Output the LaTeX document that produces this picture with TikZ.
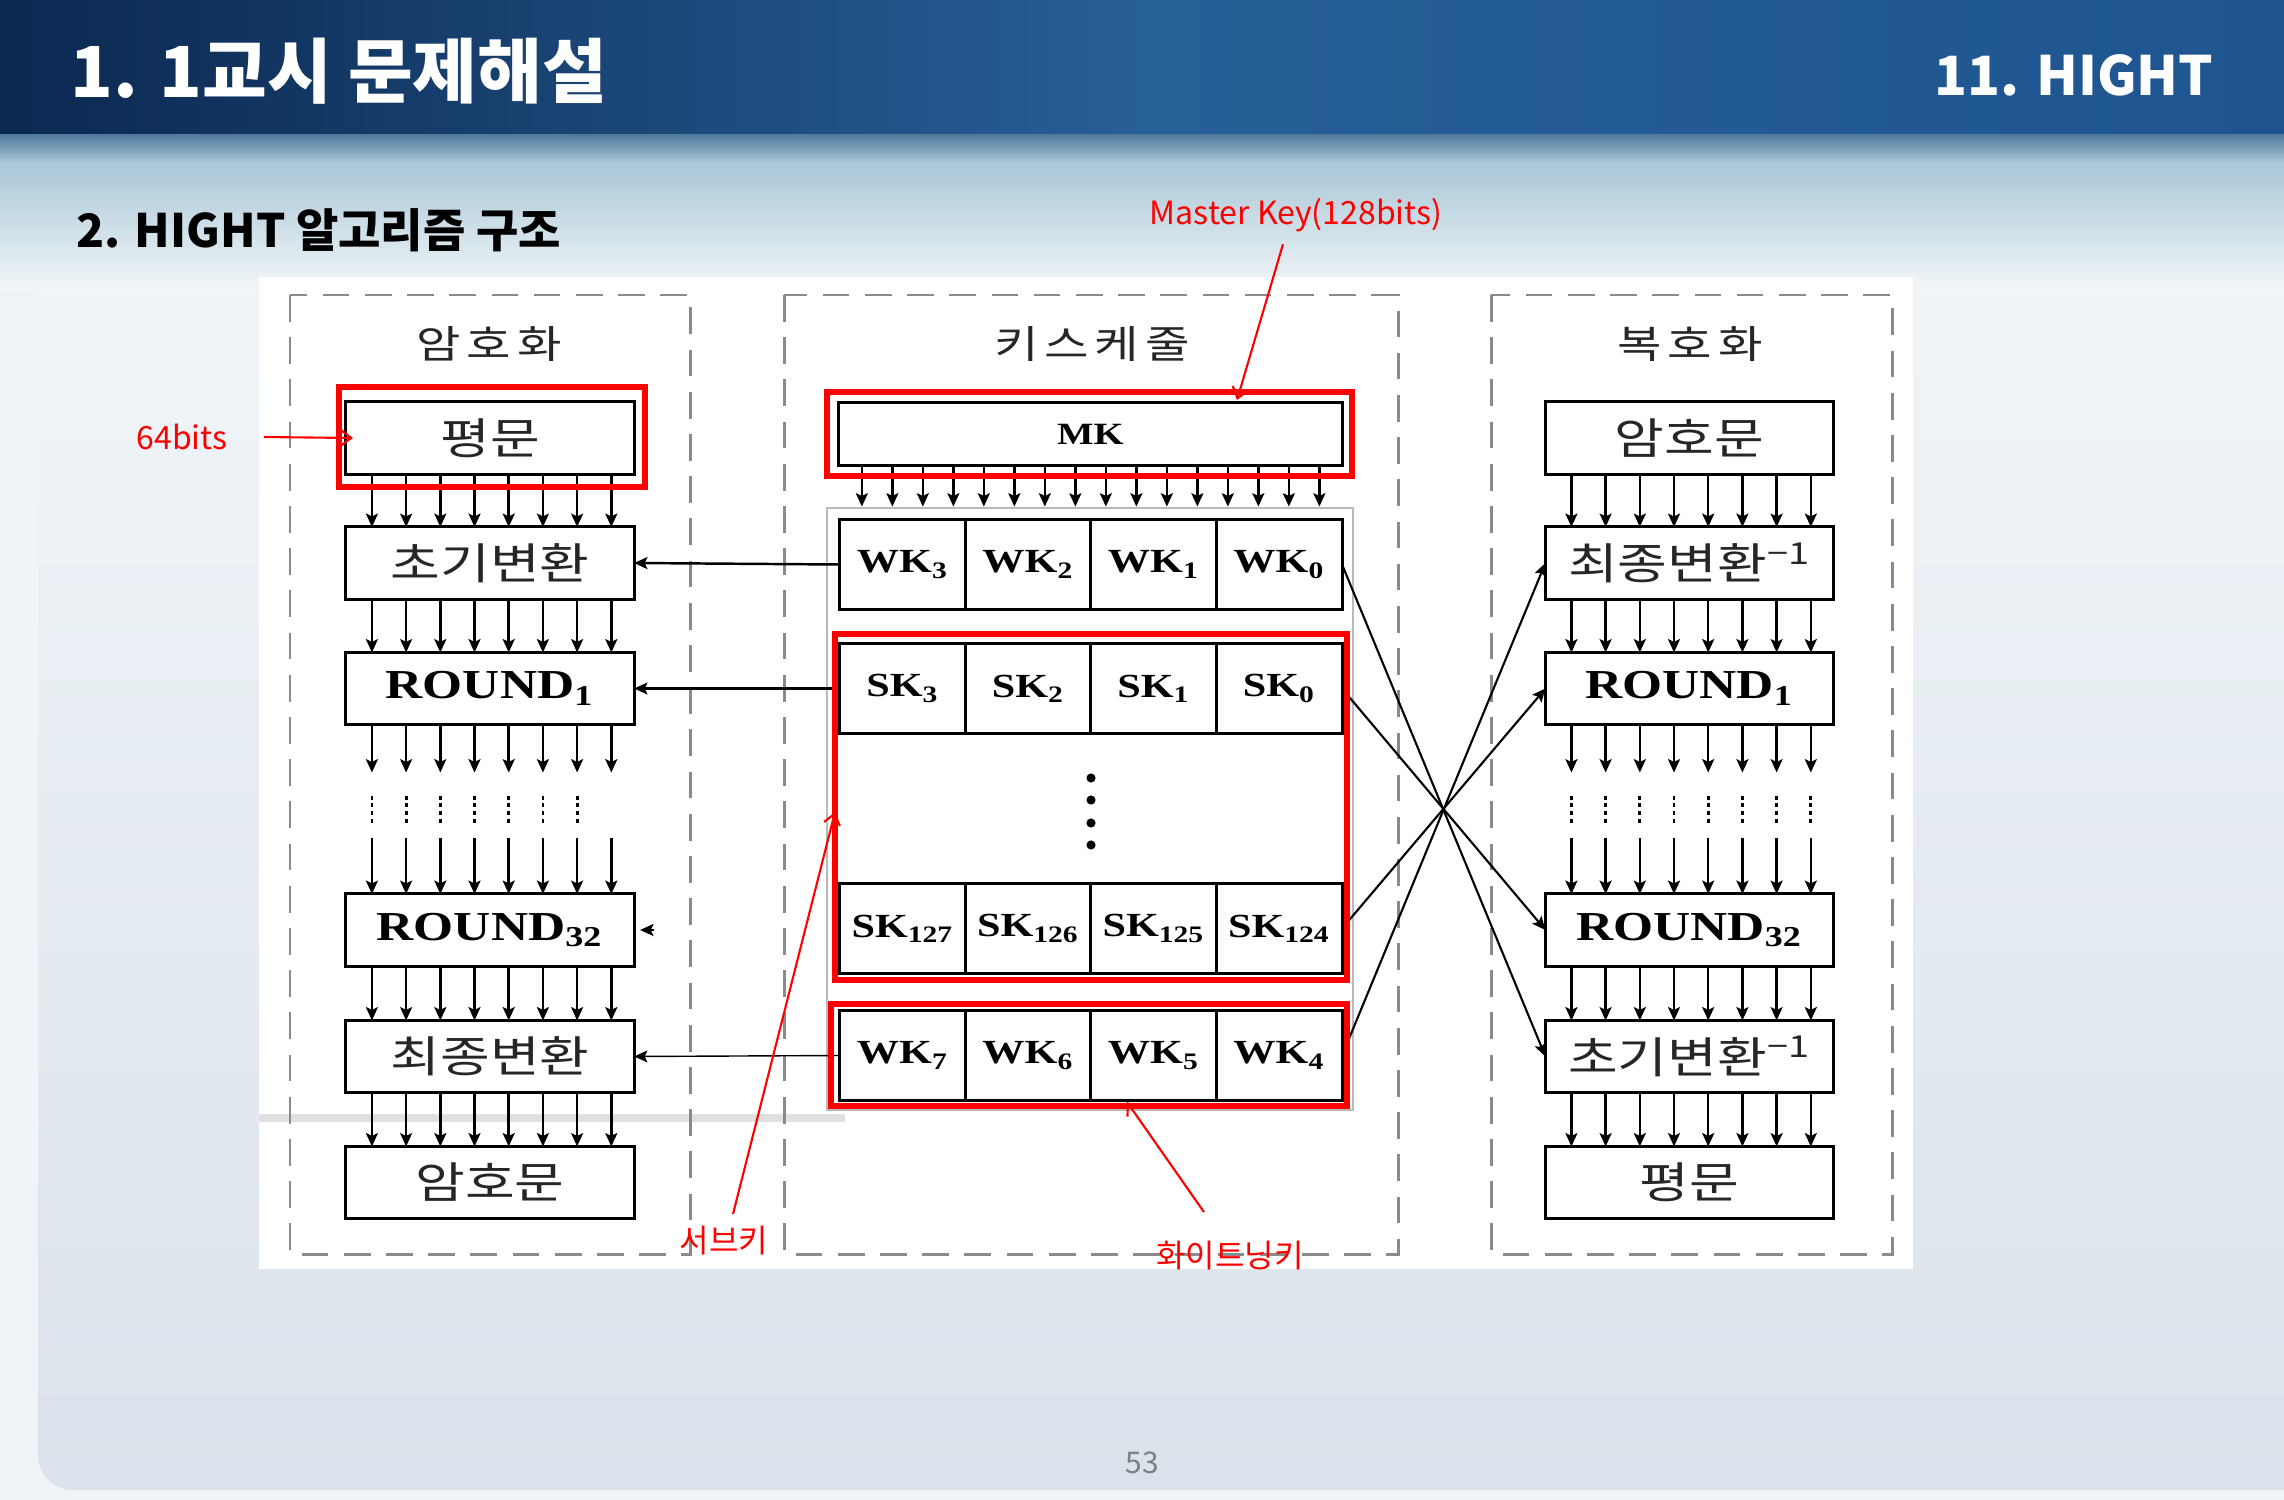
\documentclass[tikz,border=0pt]{standalone}
\usepackage{fontspec}
\usepackage{graphicx}
\usetikzlibrary{arrows.meta, positioning}
\newfontfamily\kr{Noto Sans CJK KR}
\newfontfamily\krwide[FakeStretch=1.25]{Noto Sans CJK KR}
\newfontfamily\tmswide[FakeStretch=1.25]{Liberation Serif}
\definecolor{navy}{HTML}{0B2850}
\definecolor{seablue}{HTML}{275F97}
\definecolor{deepblue}{HTML}{1E5590}
\definecolor{dusk}{HTML}{4A7397}
\definecolor{haze}{HTML}{A8C5D6}
\definecolor{mist}{HTML}{F2F7F9}
\definecolor{floor}{HTML}{DAE2EB}
\definecolor{dashgray}{HTML}{8A8A8A}

\begin{document}
\begin{tikzpicture}[x=0.01cm, y=-0.01cm,
  blk/.style={draw, line width=0.85pt, fill=white, minimum width=2.88cm, minimum height=0.72cm, inner sep=0pt, outer sep=0pt, text=black!85, font={\krwide\fontsize{12.3}{13}\selectfont}},
  rnd/.style={blk, text=black, font={\tmswide\bfseries\fontsize{11.7}{12}\selectfont}},
  cell/.style={draw, line width=0.85pt, fill=white, minimum width=1.255cm, minimum height=0.89cm, inner sep=0pt, outer sep=0pt, font={\tmswide\bfseries\fontsize{9.6}{10}\selectfont}},
  colhead/.style={text=black!85, font={\krwide\addfontfeature{LetterSpace=15}\fontsize{11}{12}\selectfont}},
  zone/.style={draw=dashgray, line width=0.85pt, dash pattern=on 7.6pt off 4.4pt},
  hilite/.style={draw=red, line width=1.6pt},
  bus/.style={-{Stealth[length=3.8pt, width=3.4pt, inset=0.8pt]}, line width=0.7pt},
  dotbus/.style={line width=0.8pt, dash pattern=on 1.2pt off 1pt},
  note/.style={text=red, font={\kr\fontsize{9.1}{10}\selectfont}},
  pointer/.style={draw=red, line width=0.6pt, -{Straight Barb[length=3pt, width=4.6pt]}}]
  \useasboundingbox (0,0) rectangle (2284,1500);

  % slide background
  \fill[floor!40!white] (0,0) rectangle (2284,1500);
  \shade[top color=mist, bottom color=floor, rounded corners=10pt] (38,150) rectangle (2320,1490);
  \shade[top color=haze, bottom color=mist] (0,160) rectangle (2284,290);
  \shade[top color=dusk, bottom color=haze] (0,132) rectangle (2284,162);
  \shade[left color=navy, right color=deepblue, middle color=seablue] (0,0) rectangle (2284,134);
  \node[anchor=base west, inner sep=0pt, text=white, font={\kr\bfseries\fontsize{20}{22}\selectfont}] (title) at (70,98) {1. 1교시 문제해설};
  \node[anchor=base east, inner sep=0pt, text=white, font={\kr\bfseries\fontsize{15.4}{17}\selectfont}] (chap) at (2214,96) {11. HIGHT};
  \node[anchor=base west, inner sep=0pt, font={\kr\bfseries\fontsize{13.1}{14}\selectfont}] (sect) at (76,248) {2. HIGHT 알고리즘 구조};
  \node[text=black!50, font={\kr\fontsize{8.5}{9}\selectfont}] (page) at (1142,1463) {53};

  % diagram panel
  \fill[white] (259,277) rectangle (1913,1269);
  \draw[line width=2pt, black!12] (259,1118) -- (845,1118);
  \draw[zone] (290,295) rectangle (690,1254);
  \draw[zone] (784,295) rectangle (1398,1254);
  \draw[zone] (1491,295) rectangle (1892,1254);
  \node[colhead] (hEnc) at (489,344) {암호화};
  \node[colhead] (hKey) at (1092,344) {키스케줄};
  \node[colhead] (hDec) at (1690,344) {복호화};

  % encryption
  \node[blk] (encP) at (490,438) {평문};
  \node[blk] (encI) at (490,563) {초기변환};
  \node[rnd] (encR1) at (490,688.5) {ROUND\textsubscript{1}};
  \node[rnd] (encR32) at (490,930) {ROUND\textsubscript{32}};
  \node[blk] (encF) at (490,1056.5) {최종변환};
  \node[blk] (encC) at (490,1182.5) {암호문};

  % decryption
  \node[blk] (decC) at (1689.5,438) {암호문};
  \node[blk] (decF) at (1689.5,563) {최종변환\textsuperscript{−1}};
  \node[rnd] (decR1) at (1689.5,688.5) {ROUND\textsubscript{1}};
  \node[rnd] (decR32) at (1689.5,930) {ROUND\textsubscript{32}};
  \node[blk] (decI) at (1689.5,1056.5) {초기변환\textsuperscript{−1}};
  \node[blk] (decP) at (1689.5,1182.5) {평문};

  % key schedule
  \node[draw=gray!55, line width=0.7pt, minimum width=5.26cm, minimum height=6.02cm, inner sep=0pt] (keys) at (1090,809) {};
  \node[cell, minimum width=5.03cm, minimum height=0.62cm, font={\tmswide\bfseries\fontsize{8.8}{10}\selectfont}] (mk) at (1090.5,434) {MK};
  \foreach \n [count=\c from 0] in {3,2,1,0} {
    \node[cell] (wk\n) at (902.75+125.5*\c,564.5) {WK\textsubscript{\n}};
    \node[cell] (sk\n) at (902.75+125.5*\c,688.5) {SK\textsubscript{\n}};
  }
  \foreach \n [count=\c from 0] in {127,126,125,124}
    \node[cell] (sk\n) at (902.75+125.5*\c,928.5) {SK\textsubscript{\n}};
  \foreach \n [count=\c from 0] in {7,6,5,4}
    \node[cell] (wk\n) at (902.75+125.5*\c,1055.5) {WK\textsubscript{\n}};
  \foreach \y in {778,800,823,845} \fill (1091,\y) circle[radius=1.3pt];

  % 64-bit data paths
  \foreach \a/\b in {encP/encI, encI/encR1, encR32/encF, encF/encC, decC/decF, decF/decR1, decR32/decI, decI/decP}
    \foreach \i in {0,...,7} {
      \path (\a.south west) ++(26+34.2*\i,0) coordinate (t);
      \draw[bus] (t) -- (t |- \b.north);
    }
  \foreach \a/\b in {encR1/encR32, decR1/decR32}
    \foreach \i in {0,...,7} {
      \path (\a.south west) ++(26+34.2*\i,0) coordinate (t);
      \draw[bus] (t) -- ++(0,48);
      \draw[bus] (t |- \b.north) ++(0,-56) -- (t |- \b.north);
    }
  \foreach \a/\n in {encR1/6, decR1/7}
    \foreach \i in {0,...,\n} {
      \path (\a.south west) ++(26+34.2*\i,71) coordinate (t);
      \draw[dotbus] (t) -- ++(0,27);
    }
  \foreach \i in {0,...,15} {
    \path (mk.south west) ++(23+30.5*\i,0) coordinate (t);
    \draw[bus] (t) -- (t |- keys.north);
  }

  % round keys into the rounds
  \draw[bus] (wk3.west) -- (encI.east);
  \draw[bus] (sk3.west) -- (encR1.east);
  \path (encR32.east) ++(20,0) coordinate (r32stub);
  \draw[bus] (r32stub) -- ([xshift=0.06cm]encR32.east);
  \draw[bus, line width=0.4pt] (wk7.west) -- (encF.east);
  \draw[bus, line width=0.6pt] (wk0.east) -- (decI.west);
  \draw[bus, line width=0.6pt] (sk0.east) -- (decR32.west);
  \draw[bus, line width=0.6pt] (sk124.east) -- (decR1.west);
  \draw[bus, line width=0.6pt] (wk4.east) -- (decF.west);

  % red marks
  \draw[hilite] (339,387) rectangle (645,487);
  \draw[hilite] (827,392) rectangle (1352,476);
  \draw[hilite] (835,634) rectangle (1347,980);
  \draw[hilite] (831,1004) rectangle (1347,1106);
  \node[note] (bits) at (182,437) {64bits};
  \draw[pointer] ([xshift=0.24cm]bits.east) -- ([xshift=0.07cm]encP.west);
  \node[note] (mkey) at (1296,215) {Master Key(128bits)};
  \coordinate (mkTip) at (1237,400);
  \draw[pointer] ([xshift=-0.13cm]mkey.south) -- (mkTip);
  \node[note] (subkey) at (724,1241) {서브키};
  \coordinate (skTip) at (835,812);
  \draw[pointer] ([xshift=0.09cm]subkey.north) -- (skTip);
  \node[note] (whkey) at (1230,1256) {화이트닝키};
  \coordinate (whTip) at (1127,1102);
  \draw[pointer] ([shift={(-0.26cm,0.17cm)}]whkey.north) -- (whTip);
\end{tikzpicture}
\end{document}
